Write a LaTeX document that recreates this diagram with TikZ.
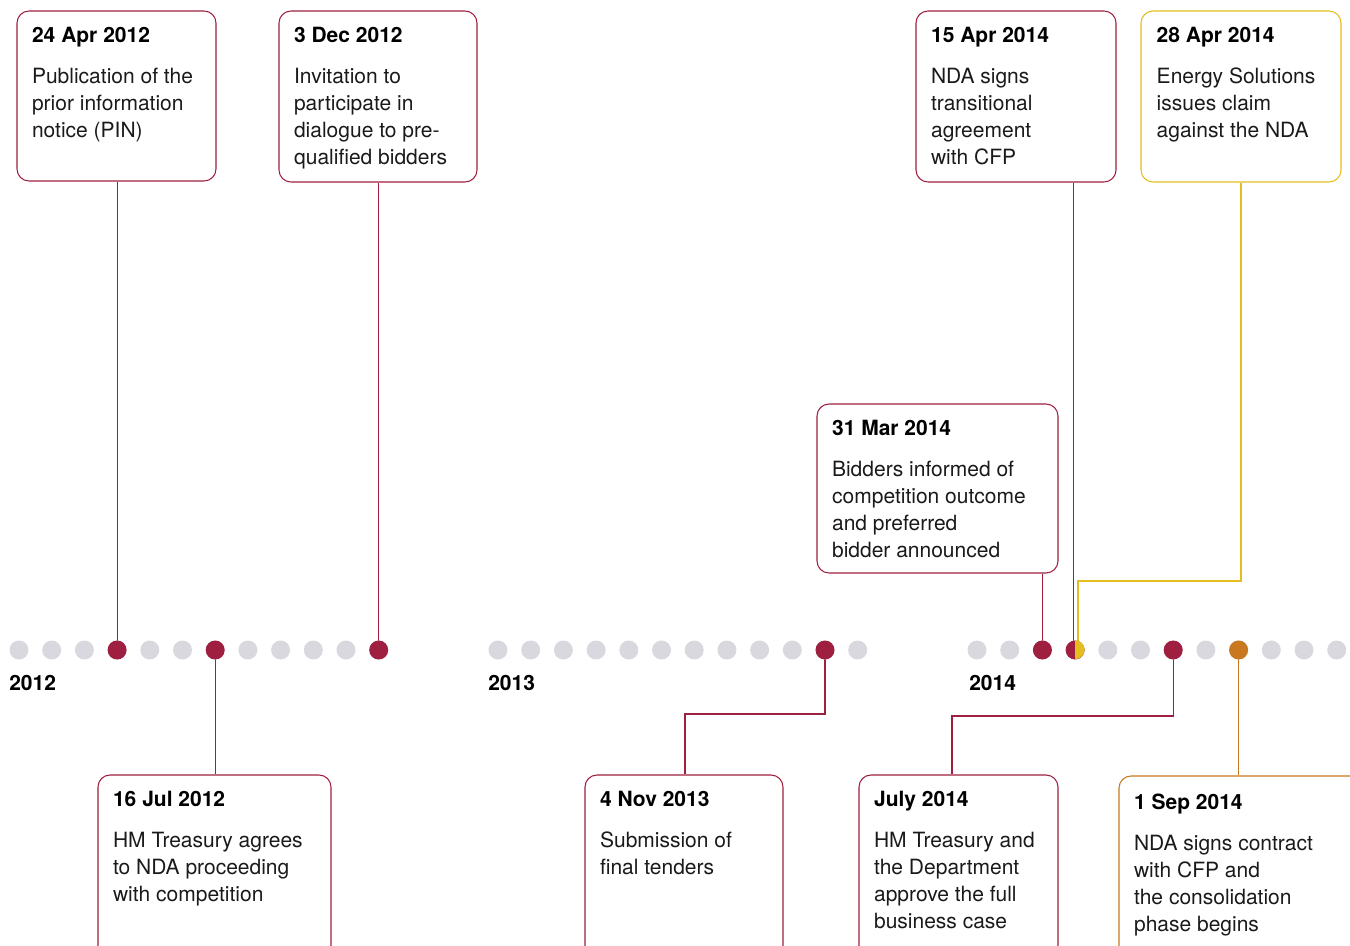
\documentclass[tikz,border=0pt]{standalone}
\usepackage{fontspec}
\setmainfont{TeX Gyre Heros}
\usetikzlibrary{fit,calc}
\pgfdeclarelayer{bg}
\pgfsetlayers{bg,main}
\definecolor{evred}{HTML}{9E1F3F}
\definecolor{evgold}{HTML}{E4BD1E}
\definecolor{evamber}{HTML}{C97820}
\definecolor{evgrey}{HTML}{D9D8DF}
\definecolor{evink}{HTML}{1A1A1A}
\newcommand\datefont{\fontsize{15.75pt}{20.25pt}\selectfont\bfseries\color{black}}
\newcommand\bodyfont{\fontsize{15.75pt}{20.25pt}\selectfont\mdseries\color{evink}}
\newcommand\evtext[2]{\parbox[t]{200pt}{\raggedright\leavevmode\datefont #1\\[10.5pt]\bodyfont #2}}
\tikzset{
  evbox/.style={draw=evred, line width=0.8pt, rounded corners=9pt, inner sep=0pt},
  evlabel/.style={anchor=base west, inner sep=0pt},
  dot/.style={circle, fill=evgrey, minimum size=14.25pt, inner sep=0pt},
  link/.style={evred, line width=0.8pt},
  year/.style={anchor=base west, inner sep=0pt, font=\fontsize{15.75pt}{18pt}\selectfont\bfseries}
}
\begin{document}
\begin{tikzpicture}[x=0.75pt,y=-0.75pt]
    \useasboundingbox (0,0) rectangle (1350,946);
    \clip (0,0) rectangle (1350,946);
    % month dots, one row per year
    \foreach \yr in {0,1,2}
      \foreach \m in {0,...,11}
        \node[dot] (d\yr-\m) at ({19+479*\yr+32.7*\m},650) {};
    \foreach \n in {d0-3,d0-6,d0-11,d1-10,d2-2,d2-3,d2-6}
      \node[dot, fill=evred] at (\n) {};
    \node[dot, fill=evamber] at (d2-8) {};
    \fill[evgold] (d2-3.north) arc[start angle=90, end angle=-90, radius=7.125pt] -- cycle;% half dot
    \node[year] (y12) at (9,690)   {2012};
    \node[year] (y13) at (488,690) {2013};
    \node[year] (y14) at (969,690) {2014};
    % event boxes
    \node[evbox, fit={(17,11) (216,181)}]     (b1) {};
    \node[evbox, fit={(279,11) (477,182)}]    (b2) {};
    \node[evbox, fit={(916,11) (1116,182)}]   (b3) {};
    \node[evbox, draw=evgold, fit={(1141,11) (1341,182)}] (b4) {};
    \node[evbox, fit={(817,404) (1058,573)}]  (b5) {};
    \node[evbox, fit={(98,775) (331,1000)}]   (b6) {};
    \node[evbox, fit={(585,775) (783,1000)}]  (b7) {};
    \node[evbox, fit={(859,775) (1058,1000)}] (b8) {};
    \node[evbox, draw=evamber, fit={(1119,776) (1400,1000)}] (b9) {};
    \node[evlabel] (t1) at ([shift={(11.5pt,-24pt)}]b1.north west)
      {\evtext{24 Apr 2012}{Publication of the\\prior information\\notice (PIN)}};
    \node[evlabel] (t2) at ([shift={(11.5pt,-24pt)}]b2.north west)
      {\evtext{3 Dec 2012}{Invitation to\\participate in\\dialogue to pre-\\qualified bidders}};
    \node[evlabel] (t3) at ([shift={(11.5pt,-24pt)}]b3.north west)
      {\evtext{15 Apr 2014}{NDA signs\\transitional\\agreement\\with CFP}};
    \node[evlabel] (t4) at ([shift={(12pt,-24pt)}]b4.north west)
      {\evtext{28 Apr 2014}{Energy Solutions\\issues claim\\against the NDA}};
    \node[evlabel] (t5) at ([shift={(11.5pt,-23.75pt)}]b5.north west)
      {\evtext{31 Mar 2014}{Bidders informed of\\competition outcome\\and preferred\\bidder announced}};
    \node[evlabel] (t6) at ([shift={(11.5pt,-24pt)}]b6.north west)
      {\evtext{16 Jul 2012}{HM Treasury agrees\\to NDA proceeding\\with competition}};
    \node[evlabel] (t7) at ([shift={(11.5pt,-24pt)}]b7.north west)
      {\evtext{4 Nov 2013}{Submission of\\final tenders}};
    \node[evlabel] (t8) at ([shift={(11.5pt,-24pt)}]b8.north west)
      {\evtext{July 2014}{HM Treasury and\\the Department\\approve the full\\business case}};
    \node[evlabel] (t9) at ([shift={(11.5pt,-25.25pt)}]b9.north west)
      {\evtext{1 Sep 2014}{NDA signs contract\\with CFP and\\the consolidation\\phase begins}};
    % connectors, behind the dots
    \coordinate (k3) at ([xshift=-1.5pt]d2-3.center);
    \coordinate (k4) at ([xshift=2.25pt]d2-3.center);
    \coordinate (k7) at (685,714);
    \coordinate (k8) at (952,716);
    \begin{pgfonlayer}{bg}
      \draw[link] (b1.south -| d0-3) -- (d0-3.center);
      \draw[link] (b2.south -| d0-11) -- (d0-11.center);
      \draw[link] (d0-6.center) -- (d0-6 |- b6.north);
      \draw[link] (d1-10.center) |- (k7) -- (k7 |- b7.north);
      \draw[link] (b5.south -| d2-2) -- (d2-2.center);
      \draw[link] (b3.south -| k3) -- (k3);
      \draw[link, evgold, line width=1.1pt] (b4.south) |- ([yshift=51.75pt]k4) -- (k4);
      \draw[link] (d2-6.center) |- (k8) -- (k8 |- b8.north);
      \draw[link, evamber] (d2-8.center) -- (d2-8 |- b9.north);
    \end{pgfonlayer}
\end{tikzpicture}
\end{document}
